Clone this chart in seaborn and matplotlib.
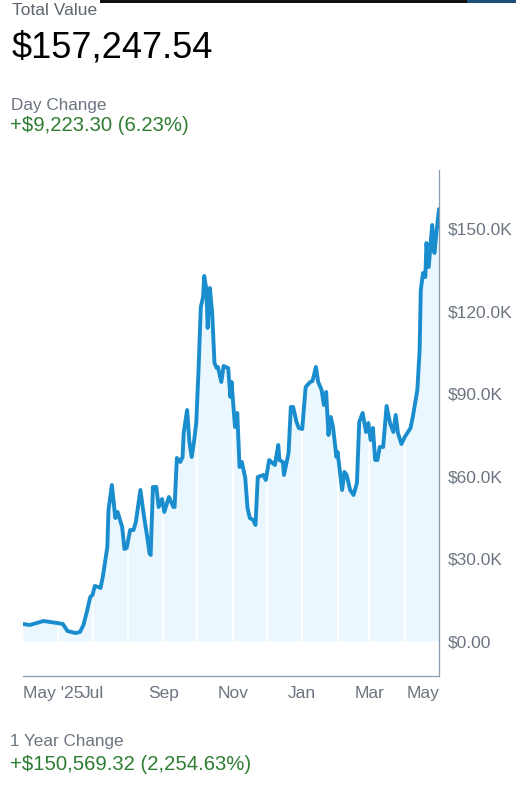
import pandas as pd
import matplotlib
matplotlib.use("Agg")
import matplotlib.pyplot as plt
import seaborn as sns
from matplotlib.patches import Rectangle

# days since 2025-05-01 and portfolio value in thousands of dollars
days = [0, 6, 18, 30, 35, 39, 46, 50, 53, 56, 59, 61, 63, 66, 68, 70, 74, 75, 78, 81,
        83, 87, 89, 91, 94, 97, 99, 103, 106, 109, 111, 112, 114, 117, 119, 122, 124, 128, 132, 133,
        135, 138, 140, 141, 144, 146, 148, 150, 152, 154, 156, 158, 159, 161, 162, 164, 166, 168, 170, 171,
        174, 176, 180, 182, 183, 186, 188, 190, 192, 195, 197, 199, 202, 204, 206, 211, 213, 216, 219, 221,
        224, 225, 228, 229, 233, 235, 237, 240, 242, 245, 248, 252, 254, 257, 259, 262, 264, 266, 268, 270,
        272, 275, 276, 280, 282, 284, 287, 290, 293, 295, 298, 301, 303, 305, 307, 309, 311, 313, 316, 319,
        322, 325, 327, 329, 332, 335, 340, 342, 346, 348, 349, 351, 353, 354, 356, 359, 360, 361, 363, 365]
values_k = [6.19, 5.83, 7.28, 6.55, 6.19, 3.64, 2.91, 3.28, 5.83, 10.56, 16.02, 16.75, 20.02, 19.66, 19.30, 23.30, 34.22, 47.70, 56.80, 44.78,
            46.97, 41.51, 33.50, 33.86, 40.41, 40.41, 43.33, 54.98, 45.87, 37.86, 32.04, 31.31, 56.07, 56.07, 48.79, 51.70, 46.97, 52.43, 48.79, 48.79,
            66.63, 65.17, 66.99, 75.73, 84.10, 72.45, 66.99, 72.45, 79.37, 98.67, 121.60, 125.24, 132.89, 127.79, 113.96, 128.52, 119.42, 101.22, 99.39, 99.76,
            94.30, 100.12, 99.39, 88.84, 94.30, 77.91, 83.01, 63.35, 65.17, 59.35, 48.42, 44.78, 44.05, 42.23, 59.71, 60.44, 58.62, 65.90, 64.81, 64.08,
            71.36, 65.90, 65.17, 60.44, 68.45, 85.20, 85.20, 79.73, 77.55, 77.19, 92.48, 94.30, 94.66, 99.76, 94.30, 91.38, 85.92, 90.66, 75.00, 81.55,
            77.91, 66.99, 68.81, 54.98, 61.53, 60.44, 54.98, 53.16, 57.53, 79.73, 83.01, 76.09, 79.37, 73.18, 77.55, 65.90, 65.90, 70.63, 70.63, 85.56,
            79.37, 76.09, 82.28, 75.73, 71.72, 74.27, 77.55, 81.55, 91.38, 105.95, 127.79, 133.98, 132.53, 144.90, 136.17, 151.46, 146.00, 141.26, 149.64, 157.25]

start_date = "2025-05-01"
end_date = "2026-05-01"
month_lines = ["2025-06-01", "2025-07-01", "2025-08-01", "2025-09-01", "2025-10-01", "2025-11-01",
               "2025-12-01", "2026-01-01", "2026-02-01", "2026-03-01", "2026-04-01"]
tick_dates = ["2025-05-01", "2025-07-01", "2025-09-01", "2025-11-01", "2026-01-01", "2026-03-01", "2026-05-01"]
tick_labels = ["May '25", "Jul", "Sep", "Nov", "Jan", "Mar", "May"]
y_ticks = [0, 30000, 60000, 90000, 120000, 150000]
y_labels = ["$0.00", "$30.0K", "$60.0K", "$90.0K", "$120.0K", "$150.0K"]

df = pd.DataFrame({
    "date": pd.Timestamp(start_date) + pd.to_timedelta(days, unit="D"),
    "value": [v * 1000 for v in values_k],
})

LINE = "#1a8dcf"
FILL = "#eaf7fe"
GRAY = "#6b7480"
GREEN = "#2e7d32"
SPINE = "#8b9bab"

sns.set_style("white")
plt.rcParams["font.family"] = ["Liberation Sans", "DejaVu Sans"]

W, H = 516, 806
fig = plt.figure(figsize=(W / 100, H / 100), dpi=100)
ax = fig.add_axes([23 / W, 1 - 676 / H, (439 - 23) / W, (676 - 170) / H])

ax.fill_between(df["date"], 0, df["value"], color=FILL, lw=0, zorder=1)
for d in month_lines:
    ax.axvline(pd.Timestamp(d), color="white", lw=1.2, zorder=1.5)
sns.lineplot(data=df, x="date", y="value", ax=ax, color=LINE, lw=2.8, zorder=3)

ax.set_xlim(pd.Timestamp(start_date), pd.Timestamp(end_date))
ax.set_ylim(-12740, 171480)
ax.set_xlabel("")
ax.set_ylabel("")

ax.yaxis.tick_right()
ax.set_yticks(y_ticks)
ax.set_yticklabels(y_labels)
ax.set_xticks([pd.Timestamp(d) for d in tick_dates])
ax.set_xticklabels(tick_labels)
ax.tick_params(axis="both", length=0, labelsize=12.5, colors=GRAY)
ax.tick_params(axis="x", pad=7.5)
ax.tick_params(axis="y", pad=6)
xl = ax.get_xticklabels()
xl[0].set_ha("left")
xl[-1].set_ha("right")

for side in ["top", "left"]:
    ax.spines[side].set_visible(False)
for side in ["bottom", "right"]:
    ax.spines[side].set_color(SPINE)
    ax.spines[side].set_linewidth(0.9)

def fy(px):
    return 1 - px / H

fig.text(12 / W, fy(15), "Total Value", fontsize=12.5, color="#5f6670", va="baseline")
fig.text(12 / W, fy(58), "$157,247.54", fontsize=26, color="black", va="baseline")
fig.text(11 / W, fy(110), "Day Change", fontsize=12.3, color=GRAY, va="baseline")
fig.text(10 / W, fy(131), "+$9,223.30 (6.23%)", fontsize=14.6, color=GREEN, va="baseline")
fig.text(10 / W, fy(746), "1 Year Change", fontsize=12.3, color=GRAY, va="baseline")
fig.text(10 / W, fy(770), "+$150,569.32 (2,254.63%)", fontsize=14.6, color=GREEN, va="baseline")

# thin status bar strip at the very top of the screenshot
fig.add_artist(Rectangle((100 / W, fy(3)), (467 - 100) / W, 3 / H, transform=fig.transFigure,
                         color="#111111", lw=0))
fig.add_artist(Rectangle((467 / W, fy(3)), (W - 467) / W, 3 / H, transform=fig.transFigure,
                         color="#1f4f78", lw=0))

fig.savefig("out.png", dpi=100, facecolor="white")
